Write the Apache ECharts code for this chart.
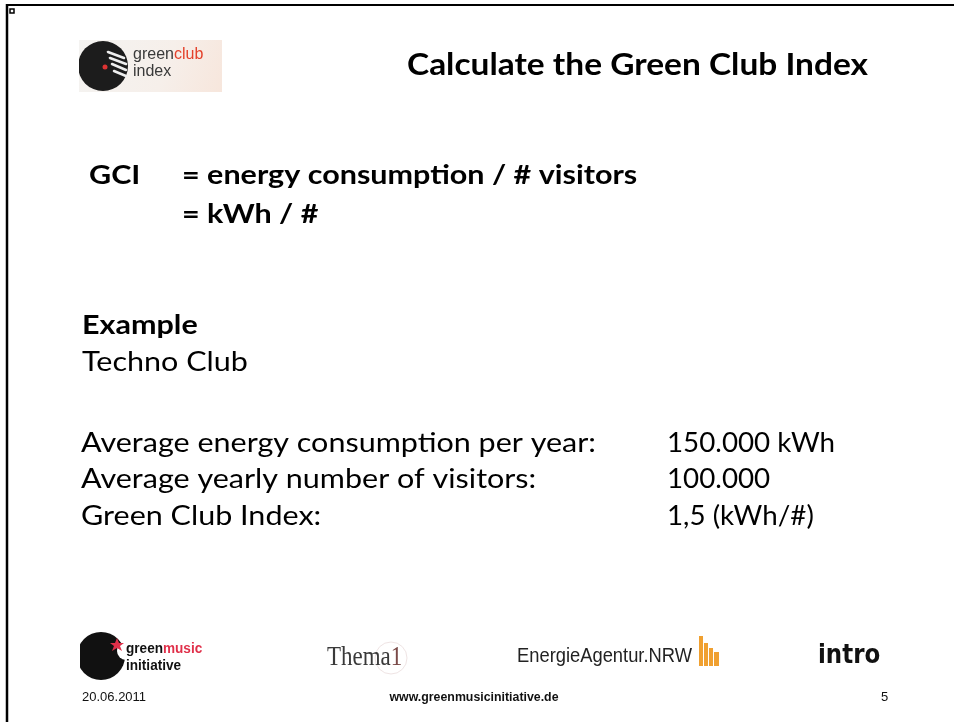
<!DOCTYPE html>
<html><head><meta charset="utf-8">
<script src="https://cdn.jsdelivr.net/npm/echarts@6/dist/echarts.min.js"></script>
<style>html,body{margin:0;padding:0;background:#fff}#c{width:954px;height:722px}</style>
</head><body><div id="c"></div>
<script>
// ---- content ----
const titleText = 'Calculate the Green Club Index';
const formulaLabel = 'GCI';
const formulaLines = ['= energy consumption / # visitors', '= kWh / #'];
const exampleHeading = 'Example';
const exampleName = 'Techno Club';
const metricLabels = ['Average energy consumption per year:', 'Average yearly number of visitors:', 'Green Club Index:'];
const metricNumbers = ['150.000', '100.000', '1,5'];
const metricUnits = [' kWh', '', ' (kWh/#)'];
const footerDate = '20.06.2011';
const footerUrl = 'www.greenmusicinitiative.de';
const footerPage = '5';
const logoTexts = ['green', 'club', 'index', 'green', 'music', 'initiative', 'Thema', '1', 'EnergieAgentur.NRW', 'intro'];

// ---- layout ----
const cvs = document.createElement('canvas').getContext('2d');
function w(text, font){ cvs.font = font; return cvs.measureText(text).width; }
const BODY = 'Lato';
const bodyFont = '27px ' + BODY;
const SQ = 515 / w(metricLabels[0], bodyFont);
const VSQ = 168 / w(metricNumbers[0] + metricUnits[0], bodyFont);
const boldFont = 'bold 27px ' + BODY;
const titleFont = 'bold 30px ' + BODY;
const TSQ = 461 / w(titleText, titleFont);

function txt(x, y, text, font, color, opts){
  opts = opts || {};
  return {
    type: 'text', x: x, y: y, scaleX: opts.sx != null ? opts.sx : SQ, scaleY: 1,
    style: { x: 0, y: 0, text: text, font: font, fill: color || '#000',
             textAlign: opts.align || 'left', textVerticalAlign: 'middle' },
    silent: true
  };
}

const els = [];
// slide frame
els.push({type:'line', shape:{x1:7,y1:5,x2:954,y2:5}, style:{stroke:'#000', lineWidth:2}});
els.push({type:'line', shape:{x1:7,y1:4,x2:7,y2:722}, style:{stroke:'#000', lineWidth:2.5}});
els.push({type:'rect', shape:{x:10,y:9,width:4,height:4}, style:{fill:'#fff', stroke:'#000', lineWidth:1.5}});

// title
els.push(txt(407, 65, titleText, titleFont, '#000', {sx:TSQ}));
// formula
els.push(txt(89, 175, formulaLabel, boldFont, '#000'));
formulaLines.forEach((t, i) => els.push(txt(182, 175 + i * 39, t, boldFont, '#000')));
// example
els.push(txt(82, 325, exampleHeading, boldFont, '#000'));
els.push(txt(82, 362, exampleName, bodyFont, '#000'));
metricLabels.forEach((t, i) => {
  const y = 443 + i * 36.5;
  els.push(txt(81, y, t, bodyFont, '#000'));
  els.push(txt(667, y, metricNumbers[i] + metricUnits[i], bodyFont, '#000', {sx:VSQ}));
});

// ---- logo: greenclub index ----
els.push({type:'rect', shape:{x:79,y:40,width:143,height:52}, style:{fill:{type:'linear',x:0,y:0,x2:1,y2:1,colorStops:[{offset:0,color:'#f4f3f1'},{offset:0.6,color:'#f6efea'},{offset:1,color:'#f7e6dc'}]}}});
els.push({type:'circle', shape:{cx:103,cy:66,r:25}, style:{fill:'#1c1c1c'}});
els.push({type:'rect', shape:{x:75,y:38,width:4,height:56}, style:{fill:'#fff'}});
[[108,52,124,58],[110,58,126,64],[112,64,126,70],[114,71,126,76]].forEach(s => els.push({type:'line', shape:{x1:s[0],y1:s[1],x2:s[2],y2:s[3]}, style:{stroke:'#eee', lineWidth:2.5, lineCap:'round'}}));
els.push({type:'circle', shape:{cx:105,cy:67,r:2.5}, style:{fill:'#d33'}});
els.push(txt(133, 55, logoTexts[0], '16px "Liberation Sans"', '#3a3a3a', {sx:1}));
els.push(txt(133 + w(logoTexts[0], '16px "Liberation Sans"'), 55, logoTexts[1], '16px "Liberation Sans"', '#e4412b', {sx:1}));
els.push(txt(133, 72, logoTexts[2], '16px "Liberation Sans"', '#3a3a3a', {sx:1}));

// ---- logo: greenmusic initiative ----
els.push({type:'circle', shape:{cx:101,cy:656,r:24}, style:{fill:'#111'}});
els.push({type:'circle', shape:{cx:126,cy:651,r:9}, style:{fill:'#fff'}});
els.push({type:'rect', shape:{x:74,y:628,width:6,height:56}, style:{fill:'#fff'}});
els.push({type:'polygon', shape:{points:[[117,638],[119,643],[124,643],[120,646],[122,651],[117,648],[112,651],[114,646],[110,643],[115,643]]}, style:{fill:'#e0304a'}});
els.push(txt(126, 649, logoTexts[3], 'bold 14px "Liberation Sans"', '#111', {sx:0.97}));
els.push(txt(126 + w(logoTexts[3], 'bold 14px "Liberation Sans"') * 0.97, 649, logoTexts[4], 'bold 14px "Liberation Sans"', '#e0304a', {sx:0.97}));
els.push(txt(126, 666, logoTexts[5], 'bold 14px "Liberation Sans"', '#111', {sx:0.97}));

// ---- logo: Thema1 ----
els.push({type:'circle', shape:{cx:391,cy:658,r:16}, style:{fill:'none', stroke:'#efe4e4', lineWidth:1}});
els.push(txt(327, 658, logoTexts[6], '28px "Liberation Serif"', '#3a3a3a', {sx:0.82}));
els.push(txt(327 + w(logoTexts[6], '28px "Liberation Serif"') * 0.82, 658, logoTexts[7], '28px "Liberation Serif"', '#7a4a48', {sx:0.82}));

// ---- logo: EnergieAgentur.NRW ----
const eaFont = '20px "Liberation Sans"';
els.push(txt(517, 656, logoTexts[8], eaFont, '#222', {sx: 175 / w(logoTexts[8], eaFont)}));
[[699,636,4,30],[704,643,4,23],[709,648,4,18],[714,652,5,14]].forEach(r => els.push({type:'rect', shape:{x:r[0],y:r[1],width:r[2],height:r[3]}, style:{fill:'#f0a030'}}));

// ---- logo: intro ----
els.push(txt(818, 656, logoTexts[9], 'bold 27px "DejaVu Sans"', '#111', {sx:0.85}));

// footer
els.push(txt(82, 697, footerDate, '13px "Liberation Sans"', '#111', {sx:1}));
els.push(txt(474, 697, footerUrl, 'bold 13px "Liberation Sans"', '#111', {sx:0.95, align:'center'}));
els.push(txt(881, 697, footerPage, '13px "Liberation Sans"', '#111', {sx:1}));

const chart = echarts.init(document.getElementById('c'), null, {renderer:'canvas'});
chart.setOption({ backgroundColor:'#fff', animation:false, graphic:{ elements: els } });
</script></body></html>
